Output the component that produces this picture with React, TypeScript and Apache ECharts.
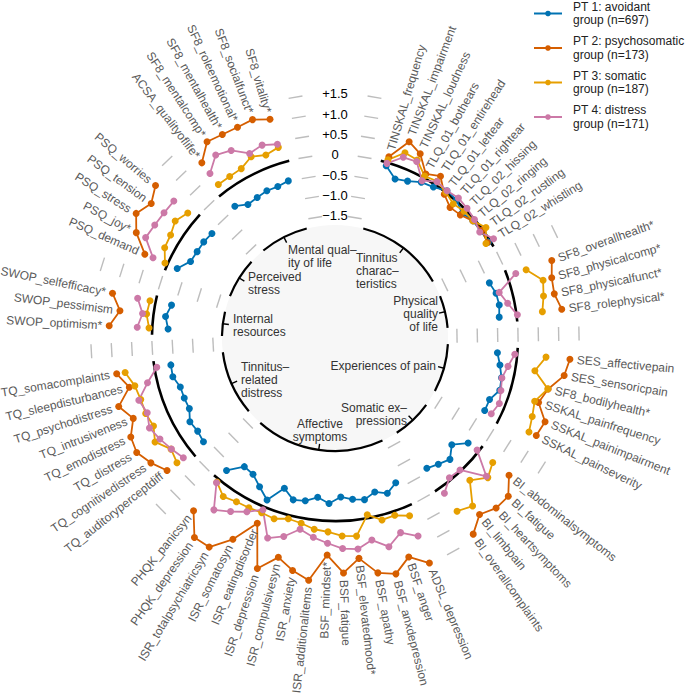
import React, { useEffect, useRef } from 'react';
import * as echarts from 'echarts';

const FONT = '"Liberation Sans", Arial, Helvetica, sans-serif';

const groupNames = [
  'PT 1: avoidant\ngroup (n=697)',
  'PT 2: psychosomatic\ngroup (n=173)',
  'PT 3: somatic\ngroup (n=187)',
  'PT 4: distress\ngroup (n=171)',
];
const groupColors = ['#0072B2', '#D55E00', '#E69F00', '#CC79A7'];

const domainLabels = [
  'Tinnitus\ncharac\u2013\nteristics',
  'Physical\nquality\nof life',
  'Experiences of pain',
  'Somatic ex\u2013\npressions',
  'Affective\nsymptoms',
  'Tinnitus\u2013\nrelated\ndistress',
  'Internal\nresources',
  'Perceived\nstress',
  'Mental qual\u2013\nity of life',
];

const varsTinnitusChar = ['TINSKAL_frequency', 'TINSKAL_impairment', 'TINSKAL_loudness', 'TLQ_01_bothears', 'TLQ_01_entirehead', 'TLQ_01_leftear', 'TLQ_01_rightear', 'TLQ_02_hissing', 'TLQ_02_ringing', 'TLQ_02_rustling', 'TLQ_02_whistling'];
const varsPhysicalQoL = ['SF8_overallhealth*', 'SF8_physicalcomp*', 'SF8_physicalfunct*', 'SF8_rolephysical*'];
const varsPain = ['SES_affectivepain', 'SES_sensoricpain', 'SF8_bodilyhealth*', 'SSKAL_painfrequency', 'SSKAL_painimpairment', 'SSKAL_painseverity'];
const varsSomatic = ['BI_abdominalsymptoms', 'BI_fatigue', 'BI_heartsymptoms', 'BI_limbpain', 'BI_overallcomplaints'];
const varsAffective = ['ADSL_depression', 'BSF_anger', 'BSF_anxdepression', 'BSF_apathy', 'BSF_elevatedmood*', 'BSF_fatigue', 'BSF_mindset*', 'ISR_additionalitems', 'ISR_anxiety', 'ISR_compulsivesyn', 'ISR_depression', 'ISR_eatingdisorder', 'ISR_somatosyn', 'ISR_totalpsychiatricsyn', 'PHQK_depression', 'PHQK_panicsyn'];
const varsTQ = ['TQ_auditoryperceptdiff', 'TQ_cognitivedistress', 'TQ_distress', 'TQ_emodistress', 'TQ_intrusiveness', 'TQ_psychodistress', 'TQ_sleepdisturbances', 'TQ_somacomplaints'];
const varsResources = ['SWOP_optimism*', 'SWOP_pessimism', 'SWOP_selfefficacy*'];
const varsStress = ['PSQ_demand', 'PSQ_joy*', 'PSQ_stress', 'PSQ_tension', 'PSQ_worries'];
const varsMentalQoL = ['ACSA_qualityoflife*', 'SF8_mentalcomp*', 'SF8_mentalhealth*', 'SF8_roleemotional*', 'SF8_socialfunct*', 'SF8_vitality*'];

// z-values per group, one sub-array per domain (same order as the variable lists)
const avoidant = [
  [-0.08, -0.32, -0.25, -0.12, -0.07, 0.05, 0.02, -0.12, -0.05, -0.05, -0.05],
  [-0.47, -0.39, -0.38, -0.43],
  [-0.49, -0.39, -0.29, -0.25, -0.41, -0.41],
  [-0.33, -0.61, -0.39, -0.49, -0.58],
  [-0.64, -0.47, -0.59, -0.46, -0.51, -0.59, -0.43, -0.56, -0.43, -0.39, -0.6, -0.18, -0.4, -0.59, -0.63, -0.29],
  [-0.38, -0.42, -0.38, -0.52, -0.51, -0.51, -0.4, -0.41],
  [-0.39, -0.3, -0.4],
  [-0.26, -0.48, -0.5, -0.5, -0.53],
  [-0.43, -0.58, -0.55, -0.51, -0.52, -0.47],
];
const psychosomatic = [
  [0.15, 0.66, 0.49, 0.11, 0.25, -0.06, -0.22, -0.18, -0.05, -0.02, -0.08],
  [1.16, 1.03, 1.0, 1.12],
  [1.3, 1.21, 0.89, 0.75, 1.06, 1.0],
  [0.95, 1.27, 1.26, 1.11, 1.4],
  [1.5, 1.18, 1.49, 1.37, 0.95, 1.28, 0.84, 1.49, 1.31, 1.07, 1.48, 0.44, 1.05, 1.5, 1.5, 0.99],
  [0.76, 0.97, 1.13, 1.08, 0.84, 1.08, 0.7, 0.94],
  [1.06, 0.83, 1.08],
  [0.61, 1.03, 1.27, 1.1, 1.29],
  [0.91, 1.26, 1.22, 1.21, 1.24, 1.11],
];
const somatic = [
  [0.07, 0.37, 0.32, 0.05, 0.1, 0.0, -0.1, -0.05, -0.05, 0.1, -0.12],
  [0.49, 0.81, 0.73, 0.64],
  [0.71, 0.48, 0.88, 0.65, 0.72, 0.8],
  [0.44, 0.59, 0.32, 0.84, 0.71],
  [0.24, 0.1, 0.12, -0.08, 0.4, 0.37, 0.27, 0.23, 0.13, 0.09, 0.19, 0.16, 0.18, 0.2, 0.27, 0.08],
  [0.45, 0.37, 0.61, 0.46, 0.51, 0.51, 0.56, 0.73],
  [0.08, 0.17, 0.14],
  [0.07, 0.24, 0.27, 0.37, 0.25],
  [0.24, 0.24, 0.26, 0.41, 0.31, 0.39],
];
const distress = [
  [-0.02, 0.25, 0.28, -0.08, 0.09, 0.05, 0.09, 0.05, 0.0, -0.09, 0.1],
  [0.22, -0.31, -0.17, 0.02],
  [-0.06, -0.19, -0.28, -0.22, -0.15, -0.23],
  [-0.05, 0.54, -0.03, -0.06, 0.17],
  [0.78, 0.55, 0.8, 0.55, 0.72, 0.68, 0.55, 0.43, 0.28, 0.54, 0.69, 0.08, 0.29, 0.48, 0.67, 0.1],
  [0.25, 0.36, 0.47, 0.57, 0.47, 0.56, 0.24, -0.06],
  [0.37, 0.27, 0.45],
  [0.39, 0.77, 0.73, 0.71, 0.7],
  [0.58, 0.87, 0.77, 0.5, 0.57, 0.47],
];

const tickValues = [1.5, 1.0, 0.5, 0, -0.5, -1.0, -1.5];
const tickLabels = ['+1.5', '+1.0', '+0.5', '0', '\u22120.5', '\u22121.0', '\u22121.5'];

// ---- layout (not data) ----
const SLOT_COUNT = 87;
const FIRST_SLOT = 4;
const GAP = 2;
const TOP_DASH_OFFSET = 2.25;
const R_MIN = -4.5;
const R_MAX = 3;
const PX_PER_UNIT = 40.67;
const CENTER = [335, 338];
const INNER_VALUE = -1.72;
const TICK_IN_VALUE = -1.87;
const DASH_HALF = 7;
const LABEL_OFFSET = 7;

// domain label placement: [x, y(center), align]
const domainLabelPos: [number, number, string][] = [
  [356, 271, 'left'],
  [438, 314, 'right'],
  [436, 366, 'right'],
  [407, 414, 'right'],
  [320, 430, 'center'],
  [241, 380, 'left'],
  [233, 325, 'left'],
  [248, 283, 'left'],
  [288, 256, 'left'],
];

const domainVars = [varsTinnitusChar, varsPhysicalQoL, varsPain, varsSomatic, varsAffective, varsTQ, varsResources, varsStress, varsMentalQoL];
const groupValues = [avoidant, psychosomatic, somatic, distress];

export default function App() {
  const ref = useRef<HTMLDivElement>(null);
  useEffect(() => {
    if (!ref.current) return;
    const chart = echarts.init(ref.current, undefined, { renderer: 'svg' });

    let s = FIRST_SLOT;
    const domainSlots = domainVars.map((vars) => {
      const arr = vars.map((_, i) => s + i);
      s += vars.length + GAP;
      return arr;
    });

    const series: any[] = [];

    // decorations
    series.push({
      type: 'custom',
      coordinateSystem: 'polar',
      silent: true,
      z: 1,
      encode: { radius: 0, angle: 1 },
      data: [[0, 0]],
      renderItem: (params: any, api: any) => {
        const cs = params.coordSys;
        const cx = cs.cx, cy = cs.cy;
        const pt = (v: number, sl: number) => api.coord([v, sl]);
        const rad = (v: number) => { const p = pt(v, 0); return Math.hypot(p[0] - cx, p[1] - cy); };
        const ang = (sl: number) => { const p = pt(0, sl); return Math.atan2(p[1] - cy, p[0] - cx); };
        const children: any[] = [];
        const arc = (r: number, a: number, b: number, w: number) => {
          let sa = ang(a), ea = ang(b);
          while (ea < sa) ea += Math.PI * 2;
          children.push({ type: 'arc', shape: { cx, cy, r, startAngle: sa, endAngle: ea, clockwise: true }, style: { stroke: '#000', lineWidth: w, fill: 'none' } });
        };
        children.push({ type: 'circle', shape: { cx, cy, r: rad(INNER_VALUE) }, style: { fill: '#f7f7f7' } });
        // gray dashes in gaps
        const dashSlots: number[] = [TOP_DASH_OFFSET, SLOT_COUNT - TOP_DASH_OFFSET];
        domainSlots.slice(0, -1).forEach((d) => dashSlots.push(d[d.length - 1] + (GAP + 1) / 2));
        dashSlots.forEach((sl) => {
          tickValues.forEach((v) => {
            const p = pt(v, sl);
            const dx = p[0] - cx, dy = p[1] - cy;
            const L = Math.hypot(dx, dy);
            const tx = -dy / L, ty = dx / L;
            children.push({ type: 'line', shape: { x1: p[0] - tx * DASH_HALF, y1: p[1] - ty * DASH_HALF, x2: p[0] + tx * DASH_HALF, y2: p[1] + ty * DASH_HALF }, style: { stroke: '#bdbdbd', lineWidth: 1.4 } });
          });
        });
        domainSlots.forEach((d) => {
          const a = d[0] - 0.5, b = d[d.length - 1] + 0.5;
          arc(rad(0), a, b, 2.6);
          arc(rad(INNER_VALUE), a, b, 2.2);
          const mid = (d[0] + d[d.length - 1]) / 2;
          const p1 = pt(INNER_VALUE, mid), p2 = pt(TICK_IN_VALUE, mid);
          children.push({ type: 'line', shape: { x1: p1[0], y1: p1[1], x2: p2[0], y2: p2[1] }, style: { stroke: '#000', lineWidth: 1.4 } });
        });
        tickValues.forEach((v, i) => {
          const p = pt(v, 0);
          children.push({ type: 'text', x: p[0], y: p[1], style: { text: tickLabels[i], fill: '#000', fontSize: 13, fontFamily: FONT, align: 'center', verticalAlign: 'middle' } });
        });
        return { type: 'group', children };
      },
    });

    // data lines
    groupValues.forEach((g, gi) => {
      g.forEach((vals, di) => {
        series.push({
          type: 'line',
          name: groupNames[gi],
          coordinateSystem: 'polar',
          data: vals.map((v, i) => [v, domainSlots[di][i]]),
          symbol: 'circle',
          symbolSize: 7,
          showSymbol: true,
          clip: false,
          silent: true,
          z: 3,
          lineStyle: { width: 1.8, color: groupColors[gi] },
          itemStyle: { color: groupColors[gi] },
        });
      });
    });

    // variable labels
    const labelData: any[] = [];
    domainVars.forEach((vars, di) => {
      vars.forEach((name, i) => {
        const vmax = Math.max(...groupValues.map((g) => g[di][i]));
        labelData.push({ value: [vmax, domainSlots[di][i]], name });
      });
    });
    series.push({
      type: 'custom',
      coordinateSystem: 'polar',
      silent: true,
      z: 4,
      encode: { radius: 0, angle: 1 },
      data: labelData,
      renderItem: (params: any, api: any) => {
        const cs = params.coordSys;
        const cx = cs.cx, cy = cs.cy;
        const item = labelData[params.dataIndex];
        const p = api.coord(item.value);
        const dx = p[0] - cx, dy = p[1] - cy;
        const L = Math.hypot(dx, dy);
        const ux = dx / L, uy = dy / L;
        const x = p[0] + ux * LABEL_OFFSET, y = p[1] + uy * LABEL_OFFSET;
        const a = Math.atan2(uy, ux);
        const right = ux >= 0;
        const rotation = right ? -a : -(a + Math.PI);
        return {
          type: 'text', x, y, rotation,
          style: { text: item.name, fill: '#5a5a5a', fontSize: 12, fontFamily: FONT, align: right ? 'left' : 'right', verticalAlign: 'middle' },
        };
      },
    });

    // domain labels inside the inner circle, drawn by a custom series above the fill
    series.push({
      type: 'custom',
      coordinateSystem: 'polar',
      silent: true,
      z: 5,
      encode: { radius: 0, angle: 1 },
      data: [[0, 0]],
      renderItem: () => ({
        type: 'group',
        children: domainLabels.map((t, i) => ({
          type: 'text',
          x: domainLabelPos[i][0],
          y: domainLabelPos[i][1],
          style: { text: t, fill: '#333', fontSize: 12, fontFamily: FONT, lineHeight: 13, align: domainLabelPos[i][2], verticalAlign: 'middle' },
        })),
      }),
    });

    chart.setOption({
      animation: false,
      backgroundColor: '#fff',
      polar: { center: CENTER, radius: PX_PER_UNIT * (R_MAX - R_MIN) },
      angleAxis: { type: 'value', min: 0, max: SLOT_COUNT, startAngle: 90, clockwise: true, show: false, axisLine: { show: false }, axisLabel: { show: false }, axisTick: { show: false }, splitLine: { show: false } },
      radiusAxis: { type: 'value', min: R_MIN, max: R_MAX, show: false, axisLine: { show: false }, axisLabel: { show: false }, axisTick: { show: false }, splitLine: { show: false } },
      legend: {
        data: groupNames,
        orient: 'vertical',
        left: 533,
        top: 0,
        padding: 0,
        itemWidth: 28,
        itemHeight: 7,
        itemGap: 7.5,
        selectedMode: false,
        textStyle: { fontSize: 12, lineHeight: 13.5, color: '#222', fontFamily: FONT, padding: [0, 0, 0, 6] },
      },
      series,
    });
    return () => chart.dispose();
  }, []);
  return <div ref={ref} style={{ position: 'fixed', left: 0, top: 0, width: 685, height: 694 }} />;
}
